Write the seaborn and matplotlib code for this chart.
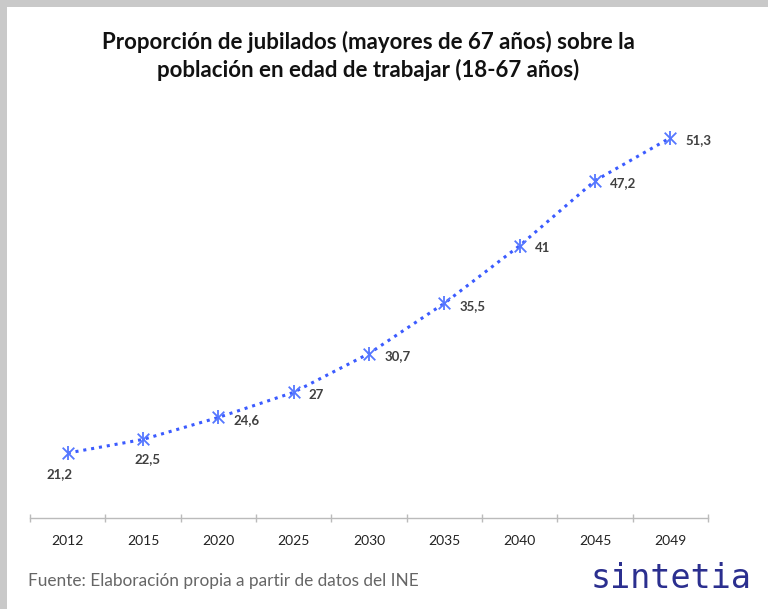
import matplotlib
matplotlib.use("Agg")
import matplotlib.pyplot as plt
import seaborn as sns
import pandas as pd
from matplotlib.patches import Rectangle

years = ["2012", "2015", "2020", "2025", "2030", "2035", "2040", "2045", "2049"]
values = [21.2, 22.5, 24.6, 27.0, 30.7, 35.5, 41.0, 47.2, 51.3]
value_labels = ["21,2", "22,5", "24,6", "27", "30,7", "35,5", "41", "47,2", "51,3"]
title = "Proporción de jubilados (mayores de 67 años) sobre la\npoblación en edad de trabajar (18-67 años)"
source = "Fuente: Elaboración propia a partir de datos del INE"
brand = "sintetia"

sns.set_theme(style="white")
plt.rcParams["font.family"] = ["Lato", "DejaVu Sans"]

df = pd.DataFrame({"year": years, "value": values})
df["pos"] = range(len(df))

fig = plt.figure(figsize=(7.68, 6.09), dpi=100)
fig.patch.set_facecolor("#c9c9c9")
fig.add_artist(Rectangle((7/768, 0), 1, 1 - 7/609, transform=fig.transFigure,
                         facecolor="white", edgecolor="none", zorder=0))

ax = fig.add_axes([30/768, 1 - 518/609, 678/768, 419/609])
ax.set_facecolor("none")

line_color = "#3b5bff"
sns.lineplot(data=df, x="pos", y="value", ax=ax, color=line_color,
             linestyle=(0, (1, 1.6)), linewidth=2.2, zorder=2)
ax.scatter(df["pos"], df["value"], marker="x", s=70, color="#5577ff", linewidths=1.3, zorder=3)
ax.scatter(df["pos"], df["value"], marker="|", s=90, color="#5577ff", linewidths=1.3, zorder=3)

for i, (v, lab) in enumerate(zip(values, value_labels)):
    if i == 0:
        ax.annotate(lab, (i, v), xytext=(-6, -15), textcoords="offset points",
                    ha="center", va="center", fontsize=9.5, color="#404040", fontweight="bold")
    elif i == 1:
        ax.annotate(lab, (i, v), xytext=(3, -14), textcoords="offset points",
                    ha="center", va="center", fontsize=9.5, color="#404040", fontweight="bold")
    else:
        ax.annotate(lab, (i, v), xytext=(11, -2), textcoords="offset points",
                    ha="left", va="center", fontsize=9.5, color="#404040", fontweight="bold")

ax.set_xlim(-0.5, len(years) - 0.5)
ax.set_ylim(15, 55)
ax.set_xticks(range(len(years)))
ax.set_xticklabels(years, fontsize=10, color="#222222")
ax.set_yticks([])
ax.set_xlabel("")
ax.set_ylabel("")
for s in ["top", "right", "left"]:
    ax.spines[s].set_visible(False)
ax.spines["bottom"].set_color("#bbbbbb")
ax.spines["bottom"].set_linewidth(1)
ax.set_xticks([i - 0.5 for i in range(len(years) + 1)], minor=True)
ax.tick_params(axis="x", which="major", bottom=False, length=0, pad=12)
ax.tick_params(axis="x", which="minor", bottom=True, length=6, color="#bbbbbb",
               width=1, direction="inout")

fig.text(368/768, 1 - 56/609, title, ha="center", va="center", fontsize=16,
         fontweight="bold", color="#111111", linespacing=1.3)
fig.text(28/768, 1 - 581/609, source, ha="left", va="center", fontsize=12.4, color="#666666")
fig.text(752/768, 1 - 579/609, brand, ha="right", va="center", fontsize=24,
         color="#2b2f8f", family="DejaVu Sans Mono")

fig.savefig("out.png", dpi=100)
